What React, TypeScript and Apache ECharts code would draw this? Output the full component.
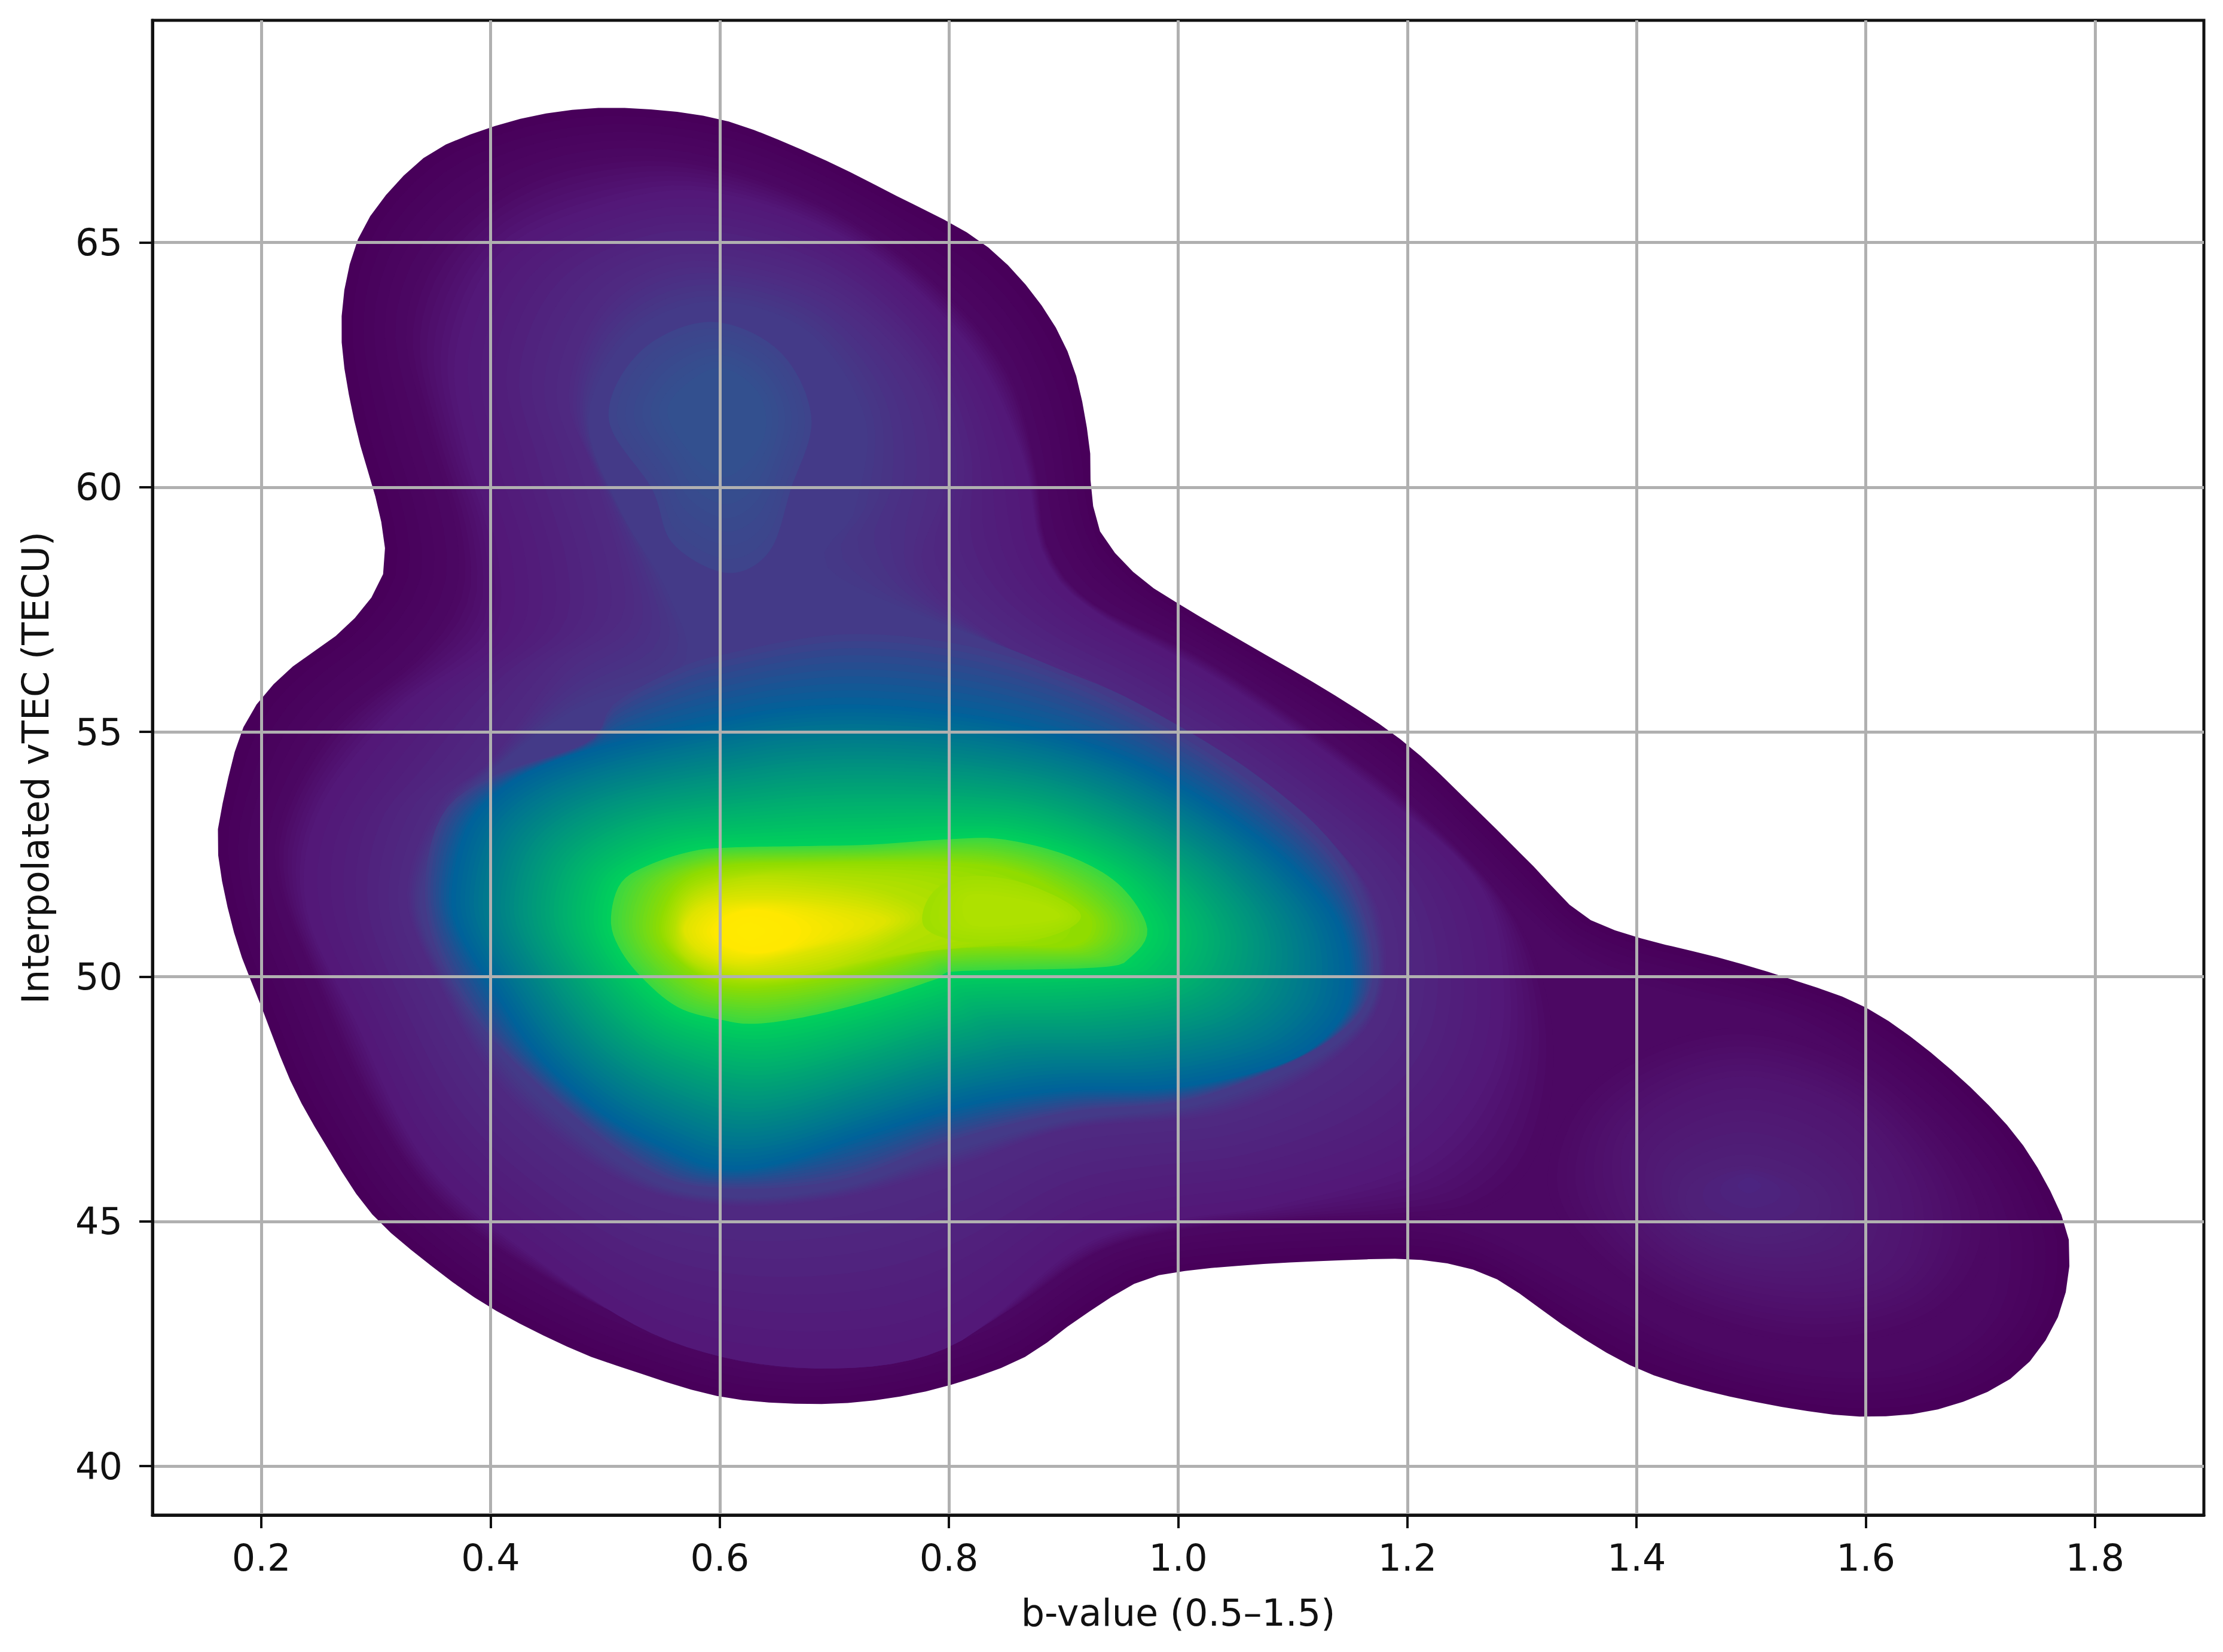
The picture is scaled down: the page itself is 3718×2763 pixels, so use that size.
import React, { useEffect, useRef } from "react";
import * as echarts from "echarts";

type P = [number, number];

const xTicks = [0.2, 0.4, 0.6, 0.8, 1.0, 1.2, 1.4, 1.6, 1.8];
const yTicks = [40, 45, 50, 55, 60, 65];
const xName = "b-value (0.5–1.5)";
const yName = "Interpolated vTEC (TECU)";

// Density contours, in data units (b-value, vTEC), clockwise.
const OUTER: P[] = [[.517,67.75],[.6,67.52],[.678,66.83],[.752,65.98],[.827,65.03],[.876,63.87],[.907,62.57],[.922,60.97],[.924,60.02],[.932,59.09],[.963,58.22],[1.001,57.61],[1.062,56.77],[1.136,55.76],[1.2,54.74],[1.259,53.44],[1.309,52.28],[1.352,51.27],[1.4,50.81],[1.47,50.4],[1.532,49.97],[1.601,49.36],[1.668,48.23],[1.73,46.78],[1.767,45.33],[1.778,44.32],[1.767,43.01],[1.73,41.85],[1.668,41.19],[1.601,41.01],[1.532,41.19],[1.457,41.56],[1.4,42],[1.346,42.72],[1.284,43.74],[1.247,44.08],[1.2,44.23],[1.136,44.2],[1.062,44.11],[1.001,43.97],[.963,43.74],[.913,43.01],[.864,42.2],[.8,41.65],[.74,41.36],[.678,41.27],[.6,41.42],[.517,42],[.468,42.43],[.4,43.24],[.344,44.17],[.295,45.19],[.258,46.49],[.227,47.79],[.2,49.39],[.177,50.83],[.162,52.57],[.168,53.73],[.186,55.18],[.22,56.19],[.27,57.06],[.301,57.93],[.308,58.66],[.301,59.67],[.282,61.26],[.27,63],[.276,64.45],[.297,65.61],[.344,66.77],[.4,67.35],[.455,67.66]];
const RIM: P[] = [[.517,66.77],[.604,66.54],[.703,65.61],[.789,64.16],[.851,62.42],[.876,60.39],[.886,58.8],[.925,57.64],[1.024,56.48],[1.136,54.74],[1.222,53.15],[1.297,51.41],[1.358,50.25],[1.433,49.68],[1.532,49.1],[1.631,47.65],[1.699,45.91],[1.717,44.32],[1.699,42.87],[1.631,42],[1.544,42],[1.445,42.58],[1.346,43.88],[1.272,44.75],[1.21,45.1],[1.111,45.04],[1.001,44.81],[.926,44.32],[.839,43.01],[.74,42.29],[.653,42.14],[.554,42.72],[.455,43.74],[.356,45.33],[.295,47.36],[.251,49.68],[.214,51.99],[.22,53.44],[.264,55.18],[.332,56.48],[.369,57.79],[.369,59.24],[.344,61.26],[.326,63.29],[.356,65.03],[.431,66.33]];
const RIM_MAIN: P[] = [[.517,66.77],[.604,66.54],[.703,65.61],[.789,64.16],[.851,62.42],[.876,60.39],[.886,58.8],[.925,57.64],[1.024,56.48],[1.136,54.74],[1.222,53.15],[1.297,51.12],[1.327,48.81],[1.315,46.49],[1.272,45.33],[1.21,45.1],[1.111,45.04],[1.001,44.81],[.926,44.32],[.839,43.01],[.74,42.29],[.653,42.14],[.554,42.72],[.455,43.74],[.356,45.33],[.295,47.36],[.251,49.68],[.214,51.99],[.22,53.44],[.264,55.18],[.332,56.48],[.369,57.79],[.369,59.24],[.344,61.26],[.326,63.29],[.356,65.03],[.431,66.33]];
const MID_A: P[] = [[.592,66.04],[.715,65.03],[.814,63],[.864,60.68],[.882,58.66],[.925,57.5],[1.037,56.05],[1.161,54.02],[1.26,51.99],[1.284,49.97],[1.272,47.94],[1.21,46.2],[1.086,45.33],[1.001,45.04],[.913,44.46],[.8,42.43],[.678,42],[.554,42.58],[.443,44.17],[.344,46.2],[.282,49.1],[.239,51.41],[.251,53.44],[.319,55.47],[.4,56.92],[.406,58.66],[.381,60.68],[.369,62.71],[.406,64.74],[.493,65.75]];
const MID_B: P[] = [[.604,64.59],[.703,63.87],[.777,62.13],[.796,60.1],[.777,58.37],[.839,56.92],[.933,55.79],[1.045,54.28],[1.159,52.08],[1.181,50.02],[1.147,48.52],[1.045,47.24],[.905,46.89],[.808,46.14],[.705,45.48],[.6,45.33],[.507,45.91],[.412,47.65],[.355,49.85],[.327,51.7],[.355,53.56],[.4,54.43],[.462,56.34],[.517,57.5],[.493,60.1],[.468,61.84],[.493,63.58],[.542,64.45]];
const MID_C: P[] = [[.592,63.8],[.676,63.21],[.727,61.41],[.718,59.53],[.699,58.25],[.876,56.48],[.963,55.61],[1.074,54.02],[1.148,52.28],[1.175,50.02],[1.136,48.57],[1.024,47.42],[.905,47.07],[.802,46.43],[.705,45.68],[.6,45.5],[.523,46.03],[.431,47.76],[.369,49.68],[.338,51.53],[.366,53.38],[.406,54.31],[.474,55.47],[.567,56.34],[.555,57.82],[.513,59.53],[.485,61.41],[.522,63.12]];
const TOP_1: P[] = [[.592,63.38],[.652,62.78],[.68,61.41],[.662,59.96],[.643,58.68],[.606,58.25],[.559,58.85],[.541,59.96],[.503,61.41],[.531,62.78]];
const TOP_2: P[] = [[.597,62.44],[.634,61.92],[.638,60.98],[.606,60.21],[.573,60.73],[.555,61.67]];
const RIGHT_0: P[] = [[1.501,48.94],[1.604,48.1],[1.682,46.35],[1.708,44.6],[1.661,43.06],[1.561,42.5],[1.449,43.06],[1.367,44.18],[1.323,45.65],[1.345,47.4],[1.41,48.52]];
const RIGHT_1: P[] = [[1.501,47.96],[1.587,47.26],[1.639,45.65],[1.63,44.04],[1.561,43.55],[1.466,43.9],[1.401,44.95],[1.388,46.56],[1.431,47.54]];
const RIGHT_2: P[] = [[1.498,46.14],[1.553,45.65],[1.553,44.95],[1.501,44.67],[1.449,45.09],[1.449,45.79]];
const RIGHT_3: P[] = [[1.488,45.73],[1.498,45.9],[1.509,45.73],[1.498,45.57]];
const MAIN_0: P[] = [[.6,56.57],[.715,57],[.839,56.63],[.96,55.47],[1.074,53.79],[1.147,52.08],[1.17,49.99],[1.13,48.66],[1.017,47.53],[.905,47.24],[.802,46.66],[.705,45.85],[.6,45.68],[.531,46.14],[.439,47.85],[.377,49.47],[.344,51.33],[.355,53.18],[.4,54.08],[.485,54.8],[.507,55.56],[.554,56.19]];
const MAIN_1: P[] = [[.722,55.56],[.801,55.41],[.88,55.07],[.948,54.56],[1,53.96],[1.05,53.22],[1.101,52.26],[1.14,51.15],[1.151,49.96],[1.14,49.07],[1.095,48.26],[1,47.74],[.903,47.67],[.818,47.37],[.733,46.78],[.654,46.19],[.6,46.07],[.553,46.48],[.496,47.22],[.44,48.41],[.4,49.81],[.372,50.93],[.366,51.74],[.377,52.93],[.4,53.67],[.44,54.26],[.507,54.78],[.6,55.26],[.654,55.48]];
const BLOB: P[] = [[.801,52.81],[.846,52.81],[.903,52.48],[.948,51.89],[.973,51],[.959,50.41],[.931,50.19],[.807,50.11],[.79,49.96],[.733,49.52],[.677,49.19],[.632,49.04],[.603,49.11],[.564,49.37],[.533,49.96],[.513,50.56],[.505,51.15],[.513,51.89],[.536,52.26],[.575,52.56],[.609,52.64],[.677,52.67],[.733,52.7]];
const CORE_1: P[] = [[.547,51],[.564,51.89],[.603,52.26],[.677,52.33],[.801,52.33],[.863,52.11],[.914,51.44],[.925,51],[.908,50.63],[.846,50.63],[.79,50.56],[.722,50.11],[.654,49.81],[.603,49.81],[.564,50.33]];
const CORE_2: P[] = [[.561,50.93],[.575,51.67],[.626,52.04],[.688,51.96],[.745,51.74],[.779,51.3],[.756,50.78],[.699,50.19],[.626,49.96],[.575,50.33]];
const CORE_3: P[] = [[.569,50.96],[.586,51.44],[.626,51.59],[.682,51.52],[.742,51.22],[.733,50.93],[.694,50.63],[.626,50.26],[.586,50.48]];
const CORE_4: P[] = [[.595,50.93],[.609,51.26],[.632,51.37],[.66,51.22],[.671,50.93],[.66,50.63],[.632,50.48],[.606,50.63]];
const CORE_5: P[] = [[.615,50.93],[.626,51.11],[.64,50.93],[.626,50.74]];
const SIDE_1: P[] = [[.812,52.04],[.858,51.96],[.903,51.52],[.914,51.15],[.88,50.78],[.818,50.7],[.779,51],[.784,51.67]];
const SIDE_2: P[] = [[.818,51.67],[.875,51.52],[.897,51.22],[.863,51.07],[.818,51.07]];

// Shading between two neighbouring contours: [from, to, colour at from, colour at to, bands]
type Seg = [P[], P[], string, string, number];
const SHADING: Seg[] = [
  [OUTER, RIM, "#48005a", "#4c0863", 6],
  [RIGHT_0, RIGHT_1, "#4c0863", "#501470", 8],
  [RIGHT_1, RIGHT_2, "#501470", "#4f2078", 8],
  [RIGHT_2, RIGHT_3, "#4f2078", "#4c2480", 3],
  [RIM_MAIN, MID_A, "#4c0863", "#531878", 7],
  [MID_A, MID_B, "#531878", "#4e2b82", 9],
  [MID_B, MID_C, "#4e2b82", "#443a88", 7],
  [TOP_1, TOP_2, "#3e448c", "#33508f", 7],
  [MAIN_0, MAIN_1, "#3f3f8a", "#00629a", 10],
  [MAIN_1, BLOB, "#00629a", "#00d25a", 36],
  [BLOB, CORE_1, "#3cd840", "#90dc00", 14],
  [CORE_1, CORE_2, "#90dc00", "#b8e000", 8],
  [CORE_2, CORE_3, "#b8e000", "#e0e400", 8],
  [CORE_3, CORE_4, "#e0e400", "#ffe800", 8],
  [CORE_4, CORE_5, "#ffe800", "#ffea00", 2],
  [SIDE_1, SIDE_2, "#a0de00", "#aee100", 5],
];

const K = 23.42; // plot aspect, used only to measure lengths along a contour
const N = 200;

function smoothRing(ring: P[]): P[] {
  const n = ring.length;
  const dense: P[] = [];
  for (let i = 0; i < n; i++) {
    const p0 = ring[(i - 1 + n) % n], p1 = ring[i], p2 = ring[(i + 1) % n], p3 = ring[(i + 2) % n];
    for (let s = 0; s < 12; s++) {
      const t = s / 12, t2 = t * t, t3 = t2 * t;
      const f = (a: number, b: number, c: number, d: number) =>
        0.5 * (2 * b + (c - a) * t + (2 * a - 5 * b + 4 * c - d) * t2 + (3 * b - a - 3 * c + d) * t3);
      dense.push([f(p0[0], p1[0], p2[0], p3[0]), f(p0[1], p1[1], p2[1], p3[1])]);
    }
  }
  const m = dense.length;
  const cum = [0];
  for (let i = 1; i <= m; i++) {
    const a = dense[i - 1], b = dense[i % m];
    cum.push(cum[i - 1] + Math.hypot((b[0] - a[0]) * K, b[1] - a[1]));
  }
  const total = cum[m];
  const out: P[] = [];
  let j = 0;
  for (let i = 0; i < N; i++) {
    const d = (total * i) / N;
    while (cum[j + 1] < d) j++;
    const u = (d - cum[j]) / Math.max(cum[j + 1] - cum[j], 1e-9);
    const a = dense[j], b = dense[(j + 1) % m];
    out.push([a[0] + (b[0] - a[0]) * u, a[1] + (b[1] - a[1]) * u]);
  }
  return out;
}

function align(a: P[], b: P[]): P[] {
  let best = 0, bestD = Infinity;
  for (let o = 0; o < N; o += 2) {
    let d = 0;
    for (let i = 0; i < N; i += 5) {
      const q = b[(i + o) % N];
      d += ((a[i][0] - q[0]) * K) ** 2 + (a[i][1] - q[1]) ** 2;
    }
    if (d < bestD) { bestD = d; best = o; }
  }
  return a.map((_, i) => b[(i + best) % N]);
}

const hex = (c: string) => [1, 3, 5].map((i) => parseInt(c.slice(i, i + 2), 16));
function mix(c1: string, c2: string, t: number) {
  const a = hex(c1), b = hex(c2);
  return `rgb(${a.map((v, i) => Math.round(v + (b[i] - v) * t)).join(",")})`;
}

type Band = { pts: P[]; color: string };
function buildBands(): Band[] {
  const bands: Band[] = [];
  for (const [from, to, c1, c2, steps] of SHADING) {
    const a = smoothRing(from);
    const b = align(a, smoothRing(to));
    for (let s = 0; s <= steps; s++) {
      const t = s / steps;
      bands.push({
        pts: a.map((p, i) => [p[0] + (b[i][0] - p[0]) * t, p[1] + (b[i][1] - p[1]) * t] as P),
        color: mix(c1, c2, t),
      });
    }
  }
  return bands;
}

const FONT = "DejaVu Sans";
const FS = 62;

export default function App() {
  const ref = useRef<HTMLDivElement>(null);
  useEffect(() => {
    document.body.style.margin = "0";
    const chart = echarts.init(ref.current!, undefined, { renderer: "svg" });
    const bands = buildBands();
    const axisCommon = {
      type: "value",
      z: 5,
      axisLine: { show: true, onZero: false, lineStyle: { color: "#111", width: 5 } },
      axisTick: { show: true, length: 22, lineStyle: { color: "#111", width: 4 } },
      splitLine: { show: true, lineStyle: { color: "#b0b0b0", width: 5 } },
      nameLocation: "middle",
      nameTextStyle: { fontFamily: FONT, fontSize: FS, color: "#111" },
    };
    chart.setOption({
      animation: false,
      backgroundColor: "#ffffff",
      grid: { left: 255, top: 34, width: 3431, height: 2500, show: true, borderColor: "#111", borderWidth: 5, backgroundColor: "transparent" },
      xAxis: {
        ...axisCommon,
        min: 0.105,
        max: 1.895,
        name: xName,
        nameGap: 132,
        axisTick: { ...axisCommon.axisTick, customValues: xTicks },
        axisLabel: { customValues: xTicks, margin: 40, fontFamily: FONT, fontSize: FS, color: "#111", formatter: (v: number) => v.toFixed(1) },
      },
      yAxis: {
        ...axisCommon,
        min: 39,
        max: 69.54,
        name: yName,
        nameGap: 165,
        axisTick: { ...axisCommon.axisTick, customValues: yTicks },
        axisLabel: { customValues: yTicks, margin: 50, fontFamily: FONT, fontSize: FS, color: "#111", formatter: (v: number) => String(v) },
      },
      series: [
        {
          type: "custom",
          z: 2,
          silent: true,
          clip: false,
          progressive: 0,
          coordinateSystem: "cartesian2d",
          encode: { x: 0, y: 1 },
          data: bands.map((b) => b.pts[0]),
          renderItem: (params: any, api: any) => {
            const band = bands[params.dataIndex];
            return {
              type: "polygon",
              shape: { points: band.pts.map((p) => api.coord(p)) },
              style: { fill: band.color, stroke: null },
            };
          },
        },
      ],
    });
    return () => chart.dispose();
  }, []);
  return <div ref={ref} style={{ position: "fixed", left: 0, top: 0, width: 3718, height: 2763, background: "#fff" }} />;
}
